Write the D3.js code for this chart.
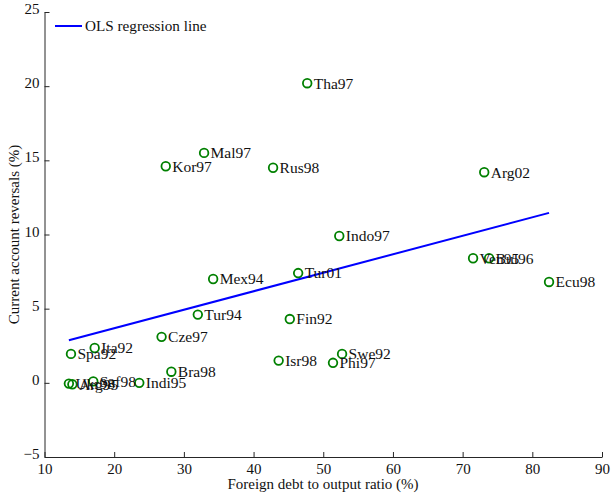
<!DOCTYPE html>
<html>
<head>
<meta charset="utf-8">
<script src="https://cdn.jsdelivr.net/npm/d3@7"></script>
<style>
  html, body { margin: 0; padding: 0; background: #fff; }
  svg text { font-family: "Liberation Serif", "Times New Roman", serif; fill: #111; }
</style>
</head>
<body>
<svg id="chart" width="611" height="493"></svg>
<script>
// Episodes: label, foreign debt / output (%), current account reversal (%)
const episodes = ["Tha97", "Mal97", "Kor97", "Rus98", "Arg02", "Indo97", "Mex94", "Tur01",
  "Ven95", "Bul96", "Ecu98", "Tur94", "Fin92", "Cze97", "Ita92", "Spa92", "Swe92", "Isr98",
  "Phi97", "Bra98", "Saf98", "Indi95", "Ukr98", "Arg95"];
const debtRatio = [47.7, 32.9, 27.4, 42.8, 73.1, 52.3, 34.2, 46.4,
  71.5, 73.8, 82.4, 32.0, 45.2, 26.8, 17.2, 13.8, 52.7, 43.6,
  51.4, 28.2, 17.0, 23.6, 13.5, 14.0];
const reversal = [20.2, 15.5, 14.6, 14.5, 14.2, 9.9, 7.0, 7.4,
  8.4, 8.4, 6.8, 4.6, 4.3, 3.1, 2.35, 1.95, 1.95, 1.5,
  1.35, 0.75, 0.1, 0.0, -0.05, -0.1];

// Fitted OLS coefficients
const olsIntercept = 1.19;
const olsSlope = 0.1246;

const xTicks = [10, 20, 30, 40, 50, 60, 70, 80, 90];
const yTicks = [-5, 0, 5, 10, 15, 20, 25];

const svg = d3.select("#chart");
const plotLeft = 44.5, plotRight = 602, plotTop = 12, plotBottom = 457;

const x = d3.scaleLinear().domain([10, 90]).range([plotLeft, plotRight]);
const y = d3.scaleLinear().domain([-5, 25]).range([plotBottom, plotTop]);

const axisColor = "#262626";

// Bottom axis, ticks pointing inward
const gx = svg.append("g")
  .attr("transform", `translate(0,${plotBottom})`)
  .call(d3.axisBottom(x).tickValues(xTicks).tickSizeInner(-5).tickSizeOuter(0).tickPadding(4));
gx.select(".domain").attr("stroke", axisColor);
gx.selectAll(".tick line").attr("stroke", axisColor);
gx.selectAll(".tick text").attr("font-size", 15).attr("dy", "0.9em").attr("y", 3)
  .style("font-family", "Liberation Serif");

// Left axis, ticks pointing inward
const gy = svg.append("g")
  .attr("transform", `translate(${plotLeft},0)`)
  .call(d3.axisLeft(y).tickValues(yTicks).tickSizeInner(-5).tickSizeOuter(0).tickPadding(5)
    .tickFormat(d => d < 0 ? "\u2212" + Math.abs(d) : d));
gy.select(".domain").attr("stroke", axisColor);
gy.selectAll(".tick line").attr("stroke", axisColor);
gy.selectAll(".tick text").attr("font-size", 15).attr("x", -5).attr("dy", "0.1em")
  .style("font-family", "Liberation Serif");

// Axis titles
svg.append("text")
  .attr("x", 323).attr("y", 489)
  .attr("text-anchor", "middle").attr("font-size", 15)
  .text("Foreign debt to output ratio (%)");
svg.append("text")
  .attr("transform", `translate(19,${(plotTop + plotBottom) / 2}) rotate(-90)`)
  .attr("text-anchor", "middle").attr("font-size", 15)
  .text("Current account reversals (%)");

// Regression line across the range of the data
const xExt = d3.extent(debtRatio);
svg.append("line")
  .attr("x1", x(xExt[0])).attr("y1", y(olsIntercept + olsSlope * xExt[0]))
  .attr("x2", x(xExt[1])).attr("y2", y(olsIntercept + olsSlope * xExt[1]))
  .attr("stroke", "#0000ff").attr("stroke-width", 2);

// Episode markers and labels
const pts = episodes.map((name, i) => ({ name, dx: debtRatio[i], cy: reversal[i] }));
const g = svg.append("g");
g.selectAll("circle").data(pts).join("circle")
  .attr("cx", d => x(d.dx)).attr("cy", d => y(d.cy)).attr("r", 4.3)
  .attr("fill", "none").attr("stroke", "#008000").attr("stroke-width", 1.8);
g.selectAll("text").data(pts).join("text")
  .attr("x", d => x(d.dx) + 6.5).attr("y", d => y(d.cy)).attr("dy", "0.35em")
  .attr("font-size", 15.5)
  .text(d => d.name);

// Legend
svg.append("line").attr("x1", 55).attr("x2", 82).attr("y1", 26).attr("y2", 26)
  .attr("stroke", "#0000ff").attr("stroke-width", 2);
svg.append("text").attr("x", 85).attr("y", 26).attr("dy", "0.35em")
  .attr("font-size", 15.2).text("OLS regression line");
</script>
</body>
</html>
